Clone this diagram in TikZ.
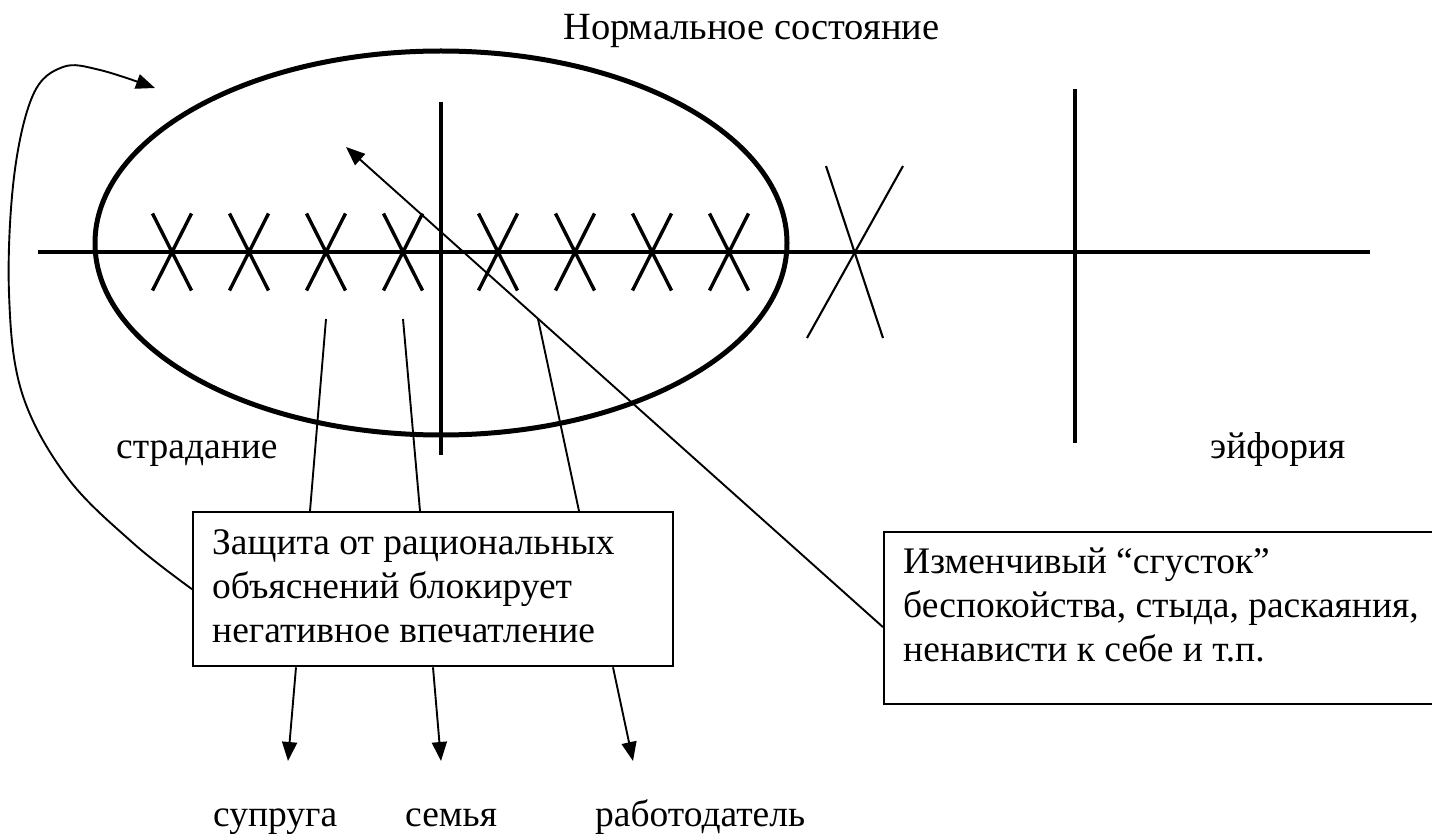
\documentclass[tikz,border=0pt]{standalone}
\usepackage{fontspec}
\setmainfont{Liberation Serif}
\usetikzlibrary{arrows.meta,calc}
\tikzset{
  thinln/.style={line width=1.9pt, line cap=butt},
  medln/.style={line width=3.4pt},
  xmark/.style={line width=3.4pt},
  bigx/.style={line width=2.1pt},
  oval/.style={line width=5pt},
  boxstyle/.style={draw, line width=2.3pt, inner sep=0pt, anchor=north west},
  txt/.style={inner sep=0pt, font=\fontsize{37.5}{44}\selectfont},
  tip/.style={-{Triangle[length=19pt,width=15pt]}},
}
\begin{document}
\begin{tikzpicture}[x=1pt,y=-1pt]
\clip (0,0) rectangle (1432,834);
\fill[white] (0,0) rectangle (1432,834);

% title and side labels
\node[txt, font=\fontsize{38.5}{44}\selectfont, anchor=base west] (title) at (563,40) {Нормальное состояние};
\node[txt, anchor=base west] (suff) at (116,458) {страдание};
\node[txt, anchor=base west] (euph) at (1210,458) {эйфория};

% axis
\coordinate (axL) at (38,252);
\coordinate (axR) at (1370,252);
\draw[medln] (axL) -- (axR);
\coordinate (v1t) at (441,102);
\coordinate (v1b) at (441,455);
\draw[medln] (v1t) -- (v1b);
\coordinate (v2t) at (1075,89);
\coordinate (v2b) at (1075,443);
\draw[medln] (v2t) -- (v2b);

% oval
\draw[oval] (441,243) ellipse [x radius=346pt, y radius=192pt];

% small X marks
\foreach \cx in {172,249,326,403,498,575,652,729}{
  \draw[xmark] (\cx-19.5,213.5) -- (\cx+19.5,290.5);
  \draw[xmark] (\cx+19.5,213.5) -- (\cx-19.5,290.5);
}
% big X
\draw[bigx] (826,166) -- (883,338);
\draw[bigx] (903,166) -- (807,338);

% boxes
\node[boxstyle, minimum width=480pt, minimum height=154pt] (b1) at (192,511) {};
\node[txt, anchor=base west] (b1t) at (212,554) {\begin{tabular}[t]{@{}l@{}}Защита от рациональных\\объяснений блокирует\\негативное впечатление\end{tabular}};
\node[boxstyle, minimum width=580pt, minimum height=172pt] (b2) at (883,531) {};
\node[txt, anchor=base west] (b2t) at (903,573) {\begin{tabular}[t]{@{}l@{}}Изменчивый “сгусток”\\беспокойства, стыда, раскаяния,\\ненависти к себе и т.п.\end{tabular}};

% lines from X marks into box 1
\coordinate (la) at (326,319);
\coordinate (lb) at (403,319);
\coordinate (lc) at (538,319);
\draw[thinln] (la) -- ($(b1.north west)+(118,0)$);
\draw[thinln] (lb) -- ($(b1.north west)+(228,0)$);
\draw[thinln] (lc) -- ($(b1.north west)+(387,0)$);

% arrows out of box 1
\coordinate (ta) at (288,761);
\coordinate (tb) at (441,761);
\coordinate (tc) at (633,761);
\draw[thinln, tip] ($(b1.south west)+(104,0)$) -- (ta);
\draw[thinln, tip] ($(b1.south west)+(241,0)$) -- (tb);
\draw[thinln, tip] ($(b1.south west)+(421,0)$) -- (tc);

\node[txt, anchor=base west] (spouse) at (213,826) {супруга};
\node[txt, anchor=base west] (family) at (405,826) {семья};
\node[txt, anchor=base west] (employer) at (595,826) {работодатель};

% long arrow from box 2 into oval
\coordinate (inner) at (346,147);
\draw[thinln, tip] ([yshift=-9pt]b2.west) -- (inner);

% curved feedback arrow
\coordinate (fbend) at (155,88);
\draw[thinln, tip] plot[smooth, tension=0.6] coordinates {(b1.west) (133,543) (67,477) (22,393) (9,293) (14,177) (33,95) (63,67) (100,70) (fbend)};
\end{tikzpicture}
\end{document}
